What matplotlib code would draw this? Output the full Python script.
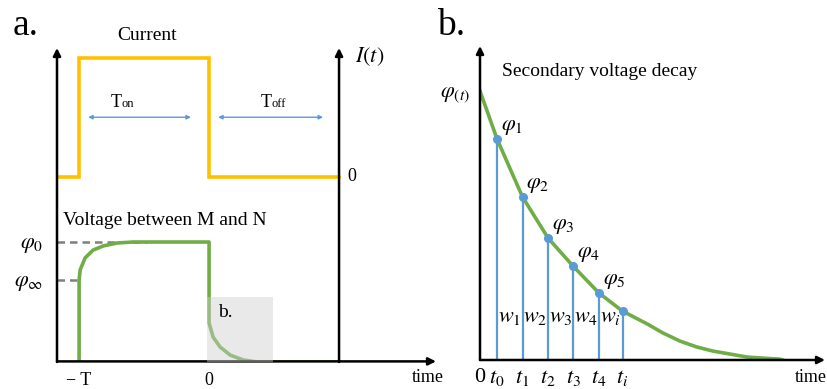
import matplotlib.pyplot as plt
from matplotlib.patches import Rectangle

plt.rcParams['font.family'] = ['Liberation Serif', 'DejaVu Serif']
plt.rcParams['mathtext.fontset'] = 'stix'

W, H = 827, 389

# ---- panel a : current square wave and voltage response ----
cur_t = [-1.17, -1.0, -1.0, 0.0, 0.0, 1.0]
cur_v = [1.54, 1.54, 2.53, 2.53, 1.54, 1.54]

volt_t = [-1.0, -1.0, -0.992, -0.954, -0.892, -0.815, -0.708, -0.585, -0.477,
          0.0, 0.0, 0.0, 0.031, 0.085, 0.162, 0.262, 0.37, 0.49, 1.0]
volt_v = [0.0, 0.683, 0.767, 0.867, 0.933, 0.967, 0.992, 1.0, 1.0,
          1.0, 0.54, 0.325, 0.208, 0.125, 0.058, 0.017, 0.0, 0.0, 0.0]

phi0, phi_inf = 1.0, 0.683
phi0_end = -0.477
box_x = (-0.015, 0.49)
box_top = 0.54
ton_span = (-0.93, -0.14)
toff_span = (0.07, 0.877)
span_y = 2.04

# ---- panel b : secondary voltage decay sampling ----
dec_t = [0.0, 0.68, 1.7, 2.72, 3.72, 4.76, 5.7, 6.7, 7.32, 8.0, 8.68,
         9.32, 10.0, 10.68, 11.32, 12.0, 12.1]
dec_v = [9.96, 8.19, 6.04, 4.52, 3.48, 2.48, 1.81, 1.33, 1.0, 0.70, 0.48,
         0.33, 0.22, 0.11, 0.07, 0.03, 0.0]
samp_t = [0.68, 1.7, 2.72, 3.72, 4.76, 5.7]
samp_v = [8.19, 6.04, 4.52, 3.48, 2.48, 1.81]
phi_labels = [r'$\varphi_1$', r'$\varphi_2$', r'$\varphi_3$', r'$\varphi_4$', r'$\varphi_5$']
t_labels = ['0', r'$t_0$', r'$t_1$', r'$t_2$', r'$t_3$', r'$t_4$', r'$t_i$']
w_labels = [r'$w_1$', r'$w_2$', r'$w_3$', r'$w_4$', r'$w_i$']

ORANGE = '#FFC000'
GREEN = '#70AD47'
BLUE = '#5B9BD5'
GREY = '#7F7F7F'


def px(x, y):
    return x / W, 1 - y / H


def axes_at(x0, x1, y_top, y_bot):
    return fig.add_axes([x0 / W, 1 - y_bot / H, (x1 - x0) / W, (y_bot - y_top) / H])


def arrow(ax, start, end, lw=1.8):
    ax.annotate('', xy=end, xytext=start, annotation_clip=False,
                arrowprops=dict(arrowstyle='-|>', color='black', lw=lw,
                                mutation_scale=11, shrinkA=0, shrinkB=0))


fig = plt.figure(figsize=(W / 100, H / 100), dpi=100)

# panel a
ax = axes_at(57, 436, 48, 362)
ax.set_xlim(-1.17, 1.746)
ax.set_ylim(0, 2.617)
for s in ax.spines.values():
    s.set_visible(False)

ax.plot(cur_t, cur_v, color=ORANGE, lw=2.6, solid_joinstyle='miter', zorder=3)
ax.plot(volt_t, volt_v, color=GREEN, lw=2.6, zorder=3)
ax.add_patch(Rectangle((box_x[0], 0), box_x[1] - box_x[0], box_top,
                       facecolor='#CFCFCF', alpha=0.45, lw=0, zorder=4))
ax.plot([-1.17, phi0_end], [phi0, phi0], color=GREY, lw=1.8, ls=(0, (3, 2)), zorder=2)
ax.plot([-1.17, -1.0], [phi_inf, phi_inf], color=GREY, lw=1.8, ls=(0, (3, 2)), zorder=2)

arrow(ax, (-1.17, 0), (-1.17, 2.617))
arrow(ax, (1.0, 0), (1.0, 2.617))
arrow(ax, (-1.17, 0.005), (1.746, 0.005))

for a, b in (ton_span, toff_span):
    ax.annotate('', xy=(b, span_y), xytext=(a, span_y),
                arrowprops=dict(arrowstyle='<|-|>', color=BLUE, lw=1.0,
                                mutation_scale=6, shrinkA=0, shrinkB=0))

ax.set_xticks([-1.0, 0.0], ['\u2212 T', '0'])
ax.set_yticks([phi_inf, phi0], [r'$\varphi_\infty$', r'$\varphi_0$'])
ax.tick_params(axis='x', length=0, pad=7, labelsize=13)
ax.tick_params(axis='y', length=0, pad=10, labelsize=16)

# panel b
bx = axes_at(480, 825, 46, 360)
bx.set_xlim(0, 13.8)
bx.set_ylim(0, 11.63)
for s in bx.spines.values():
    s.set_visible(False)

bx.plot(dec_t, dec_v, color=GREEN, lw=2.6, zorder=3)
bx.vlines(samp_t, 0, samp_v, color=BLUE, lw=1.6, zorder=2)
bx.plot(samp_t, samp_v, 'o', color=BLUE, ms=5.5, zorder=4)
for t, v, lab in zip(samp_t, samp_v, phi_labels):
    bx.annotate(lab, (t, v), xytext=(11, 8), textcoords='offset points',
                ha='center', va='center', fontsize=16)
for k, lab in enumerate(w_labels):
    bx.text((samp_t[k] + samp_t[k + 1]) / 2, 1.59, lab, ha='center', va='center',
            fontsize=16, zorder=5)

arrow(bx, (0, 0), (0, 11.63))
arrow(bx, (0, 0), (13.8, 0))

bx.set_xticks([0] + samp_t, t_labels)
bx.set_yticks([dec_v[0]], [r'$\varphi_{(t)}$'])
bx.tick_params(axis='x', length=0, pad=6, labelsize=16)
bx.tick_params(axis='y', length=0, pad=7, labelsize=16)

# free text
fig.text(*px(13, 35), 'a.', fontsize=27, va='baseline')
fig.text(*px(437, 35), 'b.', fontsize=27, va='baseline')
fig.text(*px(147, 35), 'Current', fontsize=14, ha='center', va='center')
fig.text(*px(370, 57), r'$I(t)$', fontsize=16, ha='center', va='center')
fig.text(*px(352, 177), '0', fontsize=13, ha='center', va='center')
fig.text(*px(122, 107), 'T', fontsize=13, ha='right', va='baseline')
fig.text(*px(122, 107), 'on', fontsize=9, ha='left', va='baseline')
fig.text(*px(272, 107), 'T', fontsize=13, ha='right', va='baseline')
fig.text(*px(272, 107), 'off', fontsize=9, ha='left', va='baseline')
fig.text(*px(63, 220), 'Voltage between M and N', fontsize=14, va='center')
fig.text(*px(218, 317), 'b.', fontsize=14, va='baseline', zorder=6)
fig.text(*px(428, 377), 'time', fontsize=13, ha='center', va='center')
fig.text(*px(502, 71), 'Secondary voltage decay', fontsize=14, va='center')
fig.text(*px(795, 377), 'time', fontsize=13, ha='left', va='center')

fig.savefig('out.png', dpi=100)
